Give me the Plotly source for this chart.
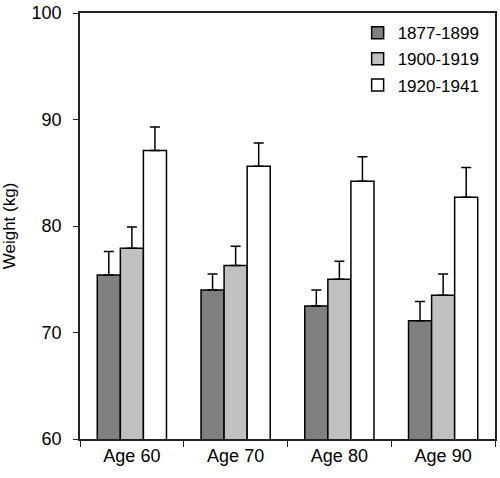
import plotly.graph_objects as go

categories = ["Age 60", "Age 70", "Age 80", "Age 90"]
series_names = ["1877-1899", "1900-1919", "1920-1941"]
values_1877 = [75.4, 74.0, 72.5, 71.1]
values_1900 = [77.9, 76.3, 75.0, 73.5]
values_1920 = [87.1, 85.6, 84.2, 82.7]
err_1877 = [2.2, 1.5, 1.5, 1.8]
err_1900 = [2.0, 1.8, 1.7, 2.0]
err_1920 = [2.2, 2.2, 2.3, 2.8]
colors = ["#808080", "#C0C0C0", "#FFFFFF"]
y_ticks = [60, 70, 80, 90, 100]

fig = go.Figure()
for name, vals, errs, col in zip(series_names, [values_1877, values_1900, values_1920],
                                  [err_1877, err_1900, err_1920], colors):
    fig.add_trace(go.Bar(
        x=categories, y=vals, name=name, legendgroup=name,
        marker=dict(color=col, line=dict(color="black", width=1.5)),
        error_y=dict(type="data", array=errs, arrayminus=[0]*len(errs), symmetric=False,
                     color="black", thickness=1.5, width=5),
    ))

fig.update_layout(
    width=500, height=478,
    margin=dict(l=80, r=3, t=9, b=39),
    paper_bgcolor="white", plot_bgcolor="white",
    barmode="group", bargap=0.333, bargroupgap=0,
    font=dict(family="Liberation Sans, Arial", color="black"),
    showlegend=True,
    legend=dict(x=0.669, y=0.995, xanchor="left", yanchor="top",
                font=dict(size=17), itemwidth=30, tracegroupgap=1,
                bgcolor="rgba(0,0,0,0)"),
    xaxis=dict(showline=True, linecolor="#222222", linewidth=1.5, mirror=True,
               ticks="outside", tickson="boundaries", ticklen=6, tickcolor="#222222",
               tickfont=dict(size=18), showgrid=False),
    yaxis=dict(range=[60, 100], tickvals=y_ticks, showline=True, linecolor="#222222",
               linewidth=1.5, mirror=True, ticks="outside", ticklen=5, tickcolor="#222222",
               tickfont=dict(size=18), ticklabelstandoff=8, ticklabeloverflow="allow",
               showgrid=False, zeroline=False,
               title=dict(text="Weight (kg)", font=dict(size=17), standoff=14)),
)

fig.write_html("out.html", config={"displayModeBar": False},
               post_script="document.body.style.margin='0';")
